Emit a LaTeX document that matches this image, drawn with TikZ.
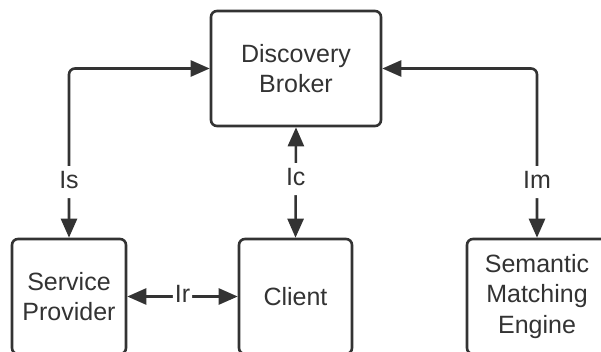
\documentclass[tikz,border=0pt]{standalone}
\usepackage{fontspec}
\setmainfont{Liberation Sans}
\usepackage{xcolor}
\definecolor{dkgray}{RGB}{51, 51, 51}
\usetikzlibrary{arrows.meta}

\begin{document}
\begin{tikzpicture}[
    x=1pt, y=-1pt,
    box/.style={draw=dkgray, line width=2.6pt, rounded corners=6pt, fill=white,
        align=center, text=dkgray, font=\fontsize{25}{30.5}\selectfont},
    link/.style={draw=dkgray, line width=2.6pt, rounded corners=6pt,
        {Triangle[length=19pt, width=16pt]}-{Triangle[length=19pt, width=16pt]}},
    tag/.style={fill=white, text=dkgray, inner xsep=2pt, inner ysep=3pt,
        text height=19pt, text depth=7pt, font=\fontsize{25}{30}\selectfont}
]

\useasboundingbox (0,0) rectangle (601,351);

% Cajas
\node[box, minimum width=170pt, minimum height=115pt] (broker) at (296,68.5) {Discovery\\Broker};
\node[box, minimum width=114pt, minimum height=115pt] (provider) at (69,296.5) {Service\\Provider};
\node[box, minimum width=113pt, minimum height=115pt] (client) at (295.5,296.5) {Client};
\node[box, minimum width=140pt, minimum height=115pt] (engine) at (537,296.5) {Semantic\\Matching\\Engine};

% Interfaces
\draw[link] (broker.west) -| node[tag, pos=0.836] (is) {Is} (provider.north);
\draw[link] (broker.east) -| node[tag, pos=0.836] (im) {Im} (engine.north);
\draw[link] (broker.south) -- node[tag, pos=0.47] (ic) {Ic} (client.north);
\draw[link] (provider.east) -- node[tag, inner ysep=1pt] (ir) {Ir} (client.west);

\end{tikzpicture}
\end{document}
